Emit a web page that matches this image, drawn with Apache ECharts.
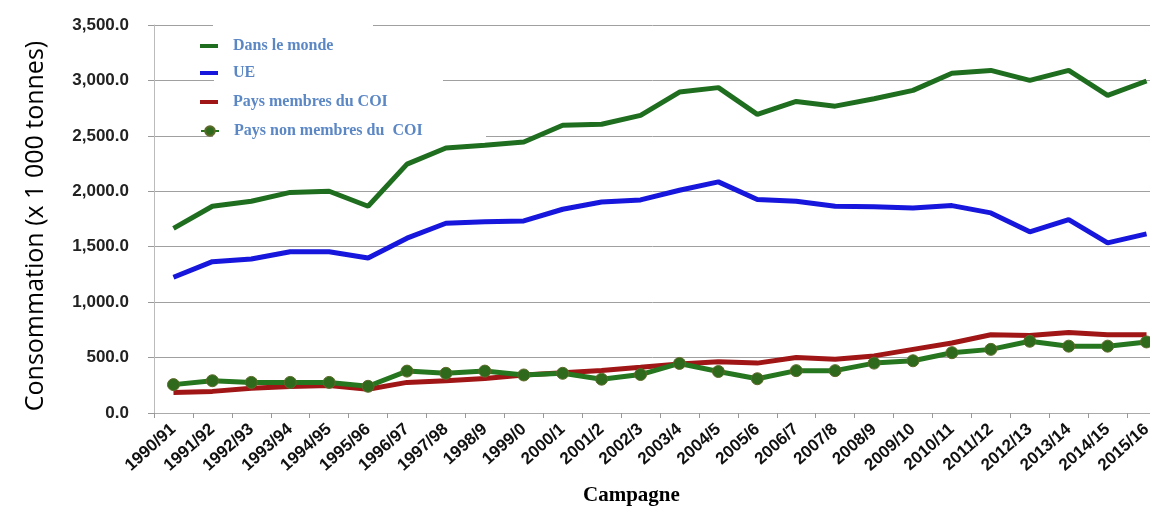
<!DOCTYPE html>
<html>
<head>
<meta charset="utf-8">
<script src="https://cdn.jsdelivr.net/npm/echarts@6/dist/echarts.min.js"></script>
<style>
  html, body { margin: 0; padding: 0; background: #fff; }
  #chart { width: 1150px; height: 507px; }
</style>
</head>
<body>
<div id="chart"></div>
<script>
const campagnes = ['1990/91', '1991/92', '1992/93', '1993/94', '1994/95', '1995/96', '1996/97', '1997/98', '1998/9', '1999/0',
  '2000/1', '2001/2', '2002/3', '2003/4', '2004/5', '2005/6', '2006/7', '2007/8', '2008/9', '2009/10',
  '2010/11', '2011/12', '2012/13', '2013/14', '2014/15', '2015/16']

const monde = [1665, 1865, 1910, 1990, 2000, 1865, 2245, 2390, 2415, 2445, 2595, 2605, 2685, 2895, 2935,
  2694, 2810, 2768, 2835, 2910, 3065, 3090, 3000, 3090, 2865, 2995]
const ue = [1225, 1365, 1389, 1455, 1455, 1398, 1577, 1712, 1725, 1733, 1838, 1904, 1922, 2009, 2085,
  1925, 1910, 1865, 1860, 1850, 1871, 1805, 1634, 1745, 1535, 1616]
const membresCOI = [186, 195, 224, 238, 247, 215, 276, 291, 311, 343, 363, 384, 412, 441, 462,
  450, 500, 485, 515, 574, 632, 706, 700, 726, 706, 706]
const nonMembresCOI = [256, 291, 276, 276, 276, 241, 378, 358, 378, 343, 358, 305, 347, 447, 374,
  309, 382, 382, 450, 471, 544, 574, 647, 603, 603, 641]

const noms = ['Dans le monde', 'UE', 'Pays membres du COI', 'Pays non membres du  COI']
const legendTops = [33, 60, 89, 118]

const chart = echarts.init(document.getElementById('chart'))

const legendText = {
  color: '#5b87c5',
  fontFamily: 'Liberation Serif',
  fontWeight: 'bold',
  fontSize: 16,
  padding: [0, 0, 0, 10]
}

chart.setOption({
  animation: false,
  grid: { left: 154, right: -16, top: 25, bottom: 94, outerBoundsMode: 'none' },
  legend: noms.map((n, i) => ({
    data: [n],
    left: 195,
    top: legendTops[i],
    icon: i < 3 ? 'rect' : undefined,
    itemWidth: 18,
    itemHeight: i < 3 ? 4 : 12,
    textStyle: legendText
  })),
  graphic: [
    { type: 'rect', z: 1, shape: { x: 213, y: 18, width: 160, height: 42 }, style: { fill: '#fff' } },
    { type: 'rect', z: 1, shape: { x: 214, y: 58, width: 229, height: 52 }, style: { fill: '#fff' } },
    { type: 'rect', z: 1, shape: { x: 213, y: 108, width: 273, height: 32 }, style: { fill: '#fff' } },
    {
      type: 'text', z: 5, left: 583, top: 485,
      style: { text: 'Campagne', fill: '#000', font: 'bold 21px "Liberation Serif"' }
    },
    {
      type: 'text', z: 5, x: 36, y: 226, rotation: Math.PI / 2,
      style: {
        text: 'Consommation (x 1 000 tonnes)', fill: '#000',
        font: '25px "Open Sans"', align: 'center', verticalAlign: 'middle'
      }
    }
  ],
  xAxis: {
    type: 'category',
    data: campagnes,
    boundaryGap: true,
    axisLine: { lineStyle: { color: '#aaa', width: 1 } },
    axisTick: { show: true, length: 5, lineStyle: { color: '#999' } },
    axisLabel: {
      interval: 0,
      rotate: 42,
      margin: 14,
      color: '#111',
      fontFamily: 'Liberation Sans',
      fontWeight: 'bold',
      fontSize: 17
    },
    splitLine: { show: false }
  },
  yAxis: {
    type: 'value',
    min: 0,
    max: 3500,
    interval: 500,
    axisLine: { show: true, lineStyle: { color: '#bbb', width: 1 } },
    axisTick: { show: true, length: 6, lineStyle: { color: '#999' } },
    axisLabel: {
      margin: 25,
      color: '#222',
      fontFamily: 'Liberation Sans',
      fontWeight: 'bold',
      fontSize: 17,
      formatter: v => v.toLocaleString('en-US', { minimumFractionDigits: 1, maximumFractionDigits: 1 })
    },
    splitLine: { lineStyle: { color: '#a0a0a0', width: 1 } }
  },
  series: [
    {
      name: noms[0], type: 'line', data: monde, symbol: 'none', z: 3,
      lineStyle: { color: '#1f6e1f', width: 5 }, itemStyle: { color: '#1f6e1f' }
    },
    {
      name: noms[1], type: 'line', data: ue, symbol: 'none', z: 3,
      lineStyle: { color: '#1616dc', width: 5 }, itemStyle: { color: '#1616dc' }
    },
    {
      name: noms[2], type: 'line', data: membresCOI, symbol: 'none', z: 3,
      lineStyle: { color: '#a01616', width: 5 }, itemStyle: { color: '#a01616' }
    },
    {
      name: noms[3], type: 'line', data: nonMembresCOI, symbol: 'circle', symbolSize: 12, z: 4,
      lineStyle: { color: '#26761f', width: 5 },
      itemStyle: { color: '#2f6a1c', borderColor: '#5d6a2a', borderWidth: 1 }
    }
  ]
})
</script>
</body>
</html>
